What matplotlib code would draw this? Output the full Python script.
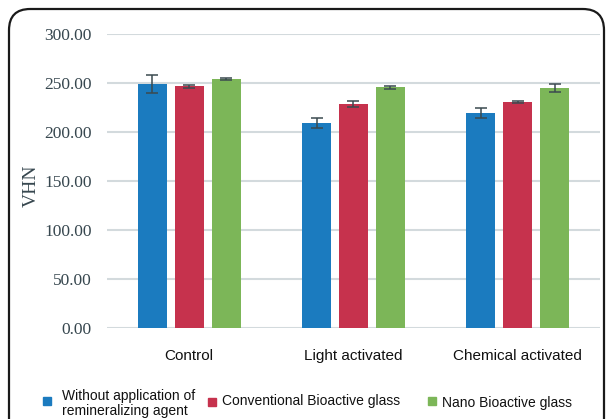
import matplotlib.pyplot as plt
import numpy as np
from matplotlib.patches import FancyBboxPatch, Rectangle

# DATA
categories = ['Control', 'Light activated', 'Chemical activated']
series_names = ['Without application of\nremineralizing agent',
                'Conventional Bioactive glass',
                'Nano Bioactive glass']
without_vals = [249.0, 209.6, 219.5]
without_err = [9.5, 5.0, 5.0]
conv_vals = [246.7, 228.3, 230.7]
conv_err = [1.5, 3.0, 1.2]
nano_vals = [254.1, 245.7, 244.6]
nano_err = [1.2, 1.5, 4.0]
yticks = [0, 50, 100, 150, 200, 250, 300]

colors = ['#1b7bbf', '#c6324d', '#7cb658']
err_col = '#3b4a50'
txt_col = '#37474f'

fig = plt.figure(figsize=(6.06, 4.19), dpi=100)
ax = fig.add_axes([0.1766, 0.2165, 0.8134, 0.7024])

x = np.arange(len(categories))
w = 0.177
off = 0.225
vals = [without_vals, conv_vals, nano_vals]
errs = [without_err, conv_err, nano_err]
for i in range(3):
    ax.bar(x + (i - 1) * off, vals[i], w, color=colors[i], zorder=3,
           yerr=errs[i], capsize=4,
           error_kw=dict(ecolor=err_col, elinewidth=1.1, capthick=1.1, zorder=4))

ax.set_xlim(-0.5, 2.5)
ax.set_ylim(0, 300)
ax.set_yticks(yticks)
ax.set_yticklabels(['%.2f' % v for v in yticks], family='Liberation Serif',
                   fontsize=12.5, color=txt_col)
ax.set_xticks(x)
ax.set_xticklabels(categories, family='Liberation Sans', fontsize=11, color='#111111')
ax.tick_params(axis='both', length=0)
ax.tick_params(axis='y', pad=11)
ax.tick_params(axis='x', pad=15)
ax.grid(axis='y', color='#d3dadd', linewidth=1.5, zorder=0)
for s in ax.spines.values():
    s.set_visible(False)

W, H = 606.0, 419.0
fig.text(31 / W, 1 - 186 / H, 'VHN', family='Liberation Serif', fontsize=14,
         color=txt_col, rotation=90, ha='center', va='center')

# legend drawn by hand
sq = [(43, 397), (208, 398), (428, 397)]
tx = [(62, 403.5), (222, 401), (442, 403)]
for i in range(3):
    fig.patches.append(Rectangle((sq[i][0] / W, 1 - (sq[i][1] + 8) / H), 8 / W, 8 / H,
                                 transform=fig.transFigure, color=colors[i]))
    fig.text(tx[i][0] / W, 1 - tx[i][1] / H, series_names[i], family='Liberation Sans',
             fontsize=10, va='center', ha='left', color='#111111', linespacing=1.15)

# rounded frame
fig.patches.append(FancyBboxPatch((9 / W, -0.1), (604 - 9) / W, 1 - 9 / H + 0.1,
                                  boxstyle='round,pad=0,rounding_size=0.035',
                                  transform=fig.transFigure, fill=False,
                                  edgecolor='#1a1a1a', linewidth=1.6, mutation_aspect=W / H))

fig.savefig('out.png', dpi=100)
